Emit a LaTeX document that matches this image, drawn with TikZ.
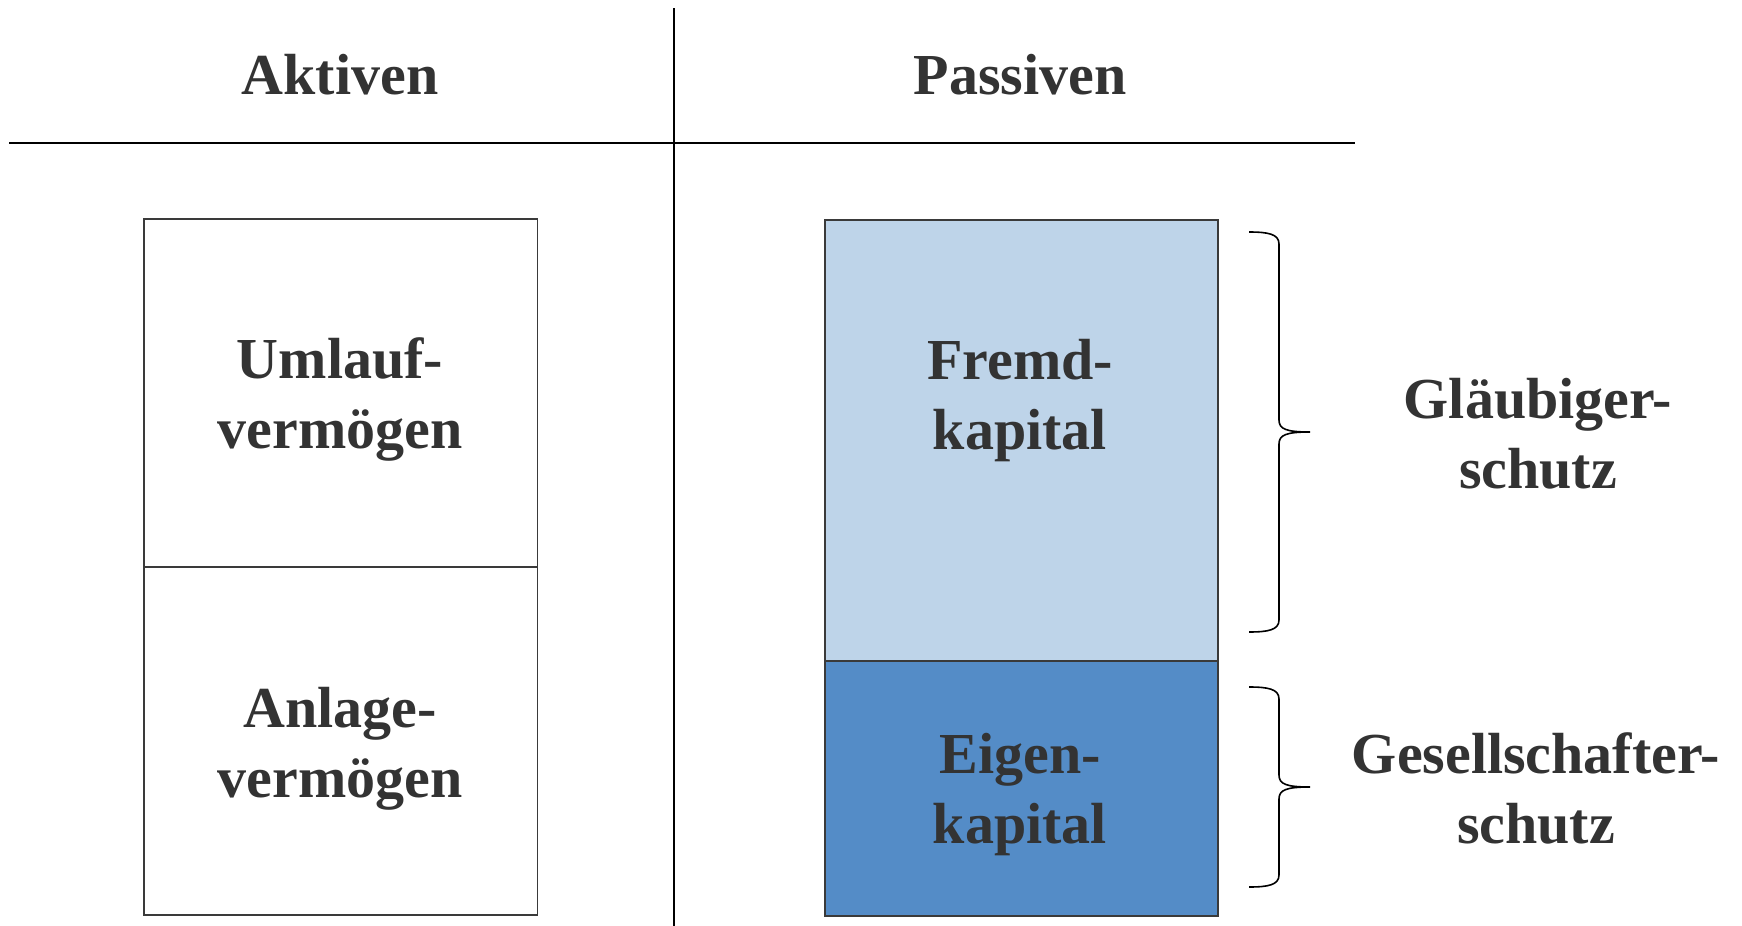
\documentclass[tikz,border=0pt]{standalone}
\usepackage{fontspec}
\setmainfont{Liberation Serif}
\definecolor{txt}{HTML}{333333}
\definecolor{boxline}{HTML}{3A3A3A}
\definecolor{lightblue}{HTML}{BED4E9}
\definecolor{darkblue}{HTML}{548CC7}
\begin{document}
\begin{tikzpicture}[x=0.5pt,y=-0.5pt,
  lbl/.style={font=\fontsize{29}{35}\selectfont\bfseries, text=txt, align=center, anchor=base, inner sep=0pt},
  rule/.style={line width=1pt, draw=black},
  box/.style={draw=boxline, line width=0.75pt, anchor=north west, inner sep=0pt, minimum width=196.7pt},
  bracestyle/.style={line width=0.8pt, draw=black},
]
\useasboundingbox (0,0) rectangle (1742,926);
% table rules
\coordinate (vtop) at (674,8);
\coordinate (vbot) at (674,926);
\coordinate (hl) at (9,143);
\coordinate (hr) at (1355,143);
\draw[rule] (vtop) -- (vbot);
\draw[rule] (hl) -- (hr);
% boxes
\node[box, minimum height=174pt] (uv) at (143.3,218) {};
\node[box, minimum height=174pt] (av) at (143.3,566) {};
\node[box, fill=lightblue, minimum height=220.5pt] (fk) at (824,219) {};
\node[box, fill=darkblue, minimum height=127.5pt] (ek) at (824,660) {};
% headings
\node[lbl] (akt) at (340,94) {Aktiven};
\node[lbl] (pas) at (1020,94) {Passiven};
% box texts (base anchor = baseline of last line)
\node[lbl] (uvt) at (340,448.5) {Umlauf-\\vermögen};
\node[lbl] (avt) at (340,797) {Anlage-\\vermögen};
\node[lbl] (fkt) at (1020,449.3) {Fremd-\\kapital};
\node[lbl] (ekt) at (1020,843) {Eigen-\\kapital};
% braces
\draw[bracestyle] (1249,232) .. controls (1268,232) and (1279,234) .. (1279,244)
  -- (1279,420) .. controls (1279,429) and (1286,432) .. (1310,432)
  .. controls (1286,432) and (1279,435) .. (1279,444)
  -- (1279,620) .. controls (1279,630) and (1268,632) .. (1249,632);
\draw[bracestyle] (1249,687) .. controls (1268,687) and (1279,689) .. (1279,699)
  -- (1279,775) .. controls (1279,784) and (1286,787) .. (1310,787)
  .. controls (1286,787) and (1279,790) .. (1279,799)
  -- (1279,875) .. controls (1279,885) and (1268,887) .. (1249,887);
\node[lbl] (gs) at (1538,488) {Gläubiger-\\schutz};
\node[lbl] (gss) at (1536,843) {Gesellschafter-\\schutz};
\end{tikzpicture}
\end{document}
